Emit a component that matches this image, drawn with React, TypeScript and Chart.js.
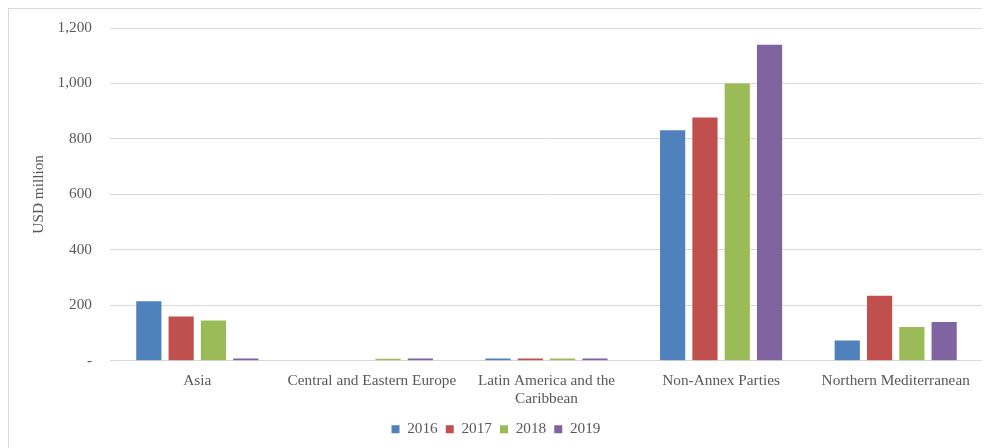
import React, { useEffect, useRef } from "react";
import { Chart, registerables } from "chart.js";

Chart.register(...registerables);

const categories: (string | string[])[] = [
  "Asia",
  "Central and Eastern Europe",
  ["Latin America and the", "Caribbean"],
  "Non-Annex Parties",
  "Northern Mediterranean",
];
const years = ["2016", "2017", "2018", "2019"];
const values2016 = [214, 0, 8, 831, 73];
const values2017 = [159, 0, 8, 877, 234];
const values2018 = [145, 7, 8, 1000, 122];
const values2019 = [8, 8, 8, 1140, 140];
const colors = ["#4F81BD", "#C0504D", "#9BBB59", "#8064A2"];
const yTicks = [0, 200, 400, 600, 800, 1000, 1200];

export default function App() {
  const ref = useRef<HTMLCanvasElement>(null);
  useEffect(() => {
    if (!ref.current) return;
    const series = [values2016, values2017, values2018, values2019];
    const font = { family: "'Liberation Serif', 'Times New Roman', serif", size: 15.3 };
    const chart = new Chart(ref.current, {
      type: "bar",
      data: {
        labels: categories,
        datasets: series.map((d, i) => ({
          label: years[i],
          data: d,
          backgroundColor: colors[i],
          borderWidth: 0,
          categoryPercentage: 0.74,
          barPercentage: 0.78,
        })),
      },
      options: {
        animation: false,
        responsive: false,
        maintainAspectRatio: false,
        layout: { padding: { left: 0, right: 7, top: 19, bottom: 1 } },
        plugins: {
          tooltip: { enabled: false },
          legend: {
            position: "bottom",
            labels: {
              boxWidth: 8,
              boxHeight: 8,
              color: "#595959",
              font,
              padding: 8,
            },
          },
        },
        scales: {
          x: {
            grid: { display: false, drawTicks: false },
            border: { display: false },
            ticks: { color: "#595959", font, maxRotation: 0, autoSkip: false, padding: 11 },
            afterFit: (scale: any) => {
              scale.height = 53;
              scale.paddingLeft = 0;
              scale.paddingRight = 0;
            },
          },
          y: {
            min: 0,
            max: 1200,
            afterBuildTicks: (scale: any) => {
              scale.ticks = yTicks.map((v) => ({ value: v }));
            },
            afterFit: (scale: any) => {
              scale.width = 101;
              scale.paddingTop = 0;
              scale.paddingBottom = 0;
            },
            border: { display: false },
            grid: { color: "#d9d9d9", drawTicks: false, lineWidth: 1 },
            ticks: {
              color: "#595959",
              font,
              padding: 18,
              callback: (v: any) => (Number(v) === 0 ? "-" : Number(v).toLocaleString("en-US")),
            },
            title: {
              display: true,
              text: "USD million",
              color: "#595959",
              font,
              padding: { top: 21, bottom: 0 },
            },
          },
        },
      },
    });
    return () => chart.destroy();
  }, []);
  return (
    <div
      style={{
        width: 982,
        height: 440,
        borderTop: "1px solid #d9d9d9",
        borderLeft: "1px solid #d9d9d9",
        boxSizing: "border-box",
        background: "#fff",
      }}
    >
      <canvas ref={ref} width={981} height={439} style={{ display: "block" }} />
    </div>
  );
}
